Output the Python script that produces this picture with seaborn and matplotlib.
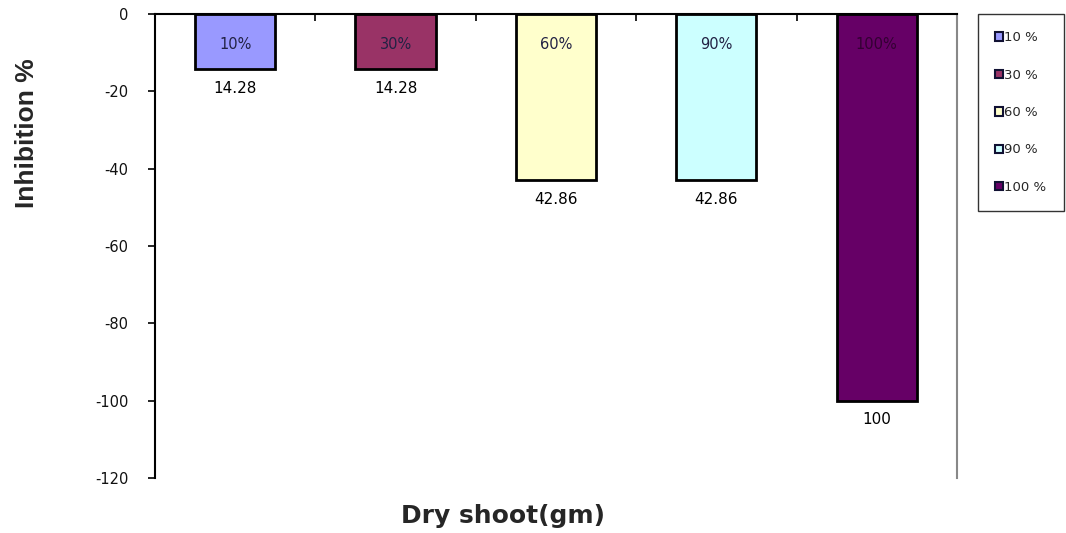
import matplotlib
matplotlib.use("Agg")
import matplotlib.pyplot as plt
import seaborn as sns
import pandas as pd
from matplotlib.patches import Patch

categories = ["10%", "30%", "60%", "90%", "100%"]
values = [-14.28, -14.28, -42.86, -42.86, -100]
value_labels = ["14.28", "14.28", "42.86", "42.86", "100"]
legend_labels = ["10 %", "30 %", "60 %", "90 %", "100 %"]
colors = ["#9999FF", "#993366", "#FFFFCC", "#CCFFFF", "#660066"]
yticks = [0, -20, -40, -60, -80, -100, -120]

sns.set_theme(style="white")
plt.rcParams['font.family'] = ['DejaVu Sans']

df = pd.DataFrame({"cat": categories, "val": values})

fig = plt.figure(figsize=(10.66, 5.33), dpi=100)
ax = fig.add_axes([0.1454, 0.1032, 0.7523, 0.8705])
sns.barplot(data=df, x="cat", y="val", hue="cat", palette=colors, width=0.5,
            edgecolor="black", linewidth=2, legend=False, ax=ax, saturation=1)

ax.set_ylim(-120, 0)
ax.set_xlim(-0.5, 4.5)
ax.set_yticks(yticks)
ax.set_yticklabels([str(v) for v in yticks], fontsize=10.5, color='#111111')
ax.tick_params(axis='y', direction='out', length=5, width=1.2, color='black', left=True, pad=14)

ax.xaxis.tick_top()
ax.set_xticks([0.5, 1.5, 2.5, 3.5])
ax.set_xticklabels([])
ax.tick_params(axis='x', direction='in', length=5, width=1.2, color='black', top=True, bottom=False)

for s in ['left', 'top']:
    ax.spines[s].set_color('black')
    ax.spines[s].set_linewidth(1.5)
ax.spines['right'].set_color('#888888')
ax.spines['right'].set_linewidth(1.5)
ax.spines['bottom'].set_visible(False)

for i, (cat, v, lab) in enumerate(zip(categories, values, value_labels)):
    tc = '#330033' if i == 4 else '#222244'
    ax.text(i, -7.8, cat, ha='center', va='center', fontsize=10.5, color=tc)
    ax.text(i, v - 5, lab, ha='center', va='center', fontsize=11, color='black')

ax.set_xlabel("")
ax.set_ylabel("")
fig.text(503/1066, 1 - 516/533, "Dry shoot(gm)", ha='center', va='center',
         fontsize=18, fontweight='bold', family=['DejaVu Sans'])
fig.text(27/1066, 1 - 133/533, "Inhibition %", ha='center', va='center', rotation=90,
         fontsize=19, fontweight='bold', family=['Liberation Sans', 'DejaVu Sans'])

handles = [Patch(facecolor=c, edgecolor='#111133', linewidth=1.5) for c in colors]
leg = fig.legend(handles, legend_labels, loc='upper left', bbox_to_anchor=(978/1066, 1 - 14/533),
                 frameon=True, fontsize=9.5, handlelength=0.6, handleheight=0.6,
                 handletextpad=0.1, labelspacing=1.85, borderpad=1.3, borderaxespad=0)
leg.get_frame().set_edgecolor('black')
leg.get_frame().set_linewidth(1)
leg.get_frame().set_boxstyle('square', pad=0)

fig.savefig("out.png", dpi=100)
